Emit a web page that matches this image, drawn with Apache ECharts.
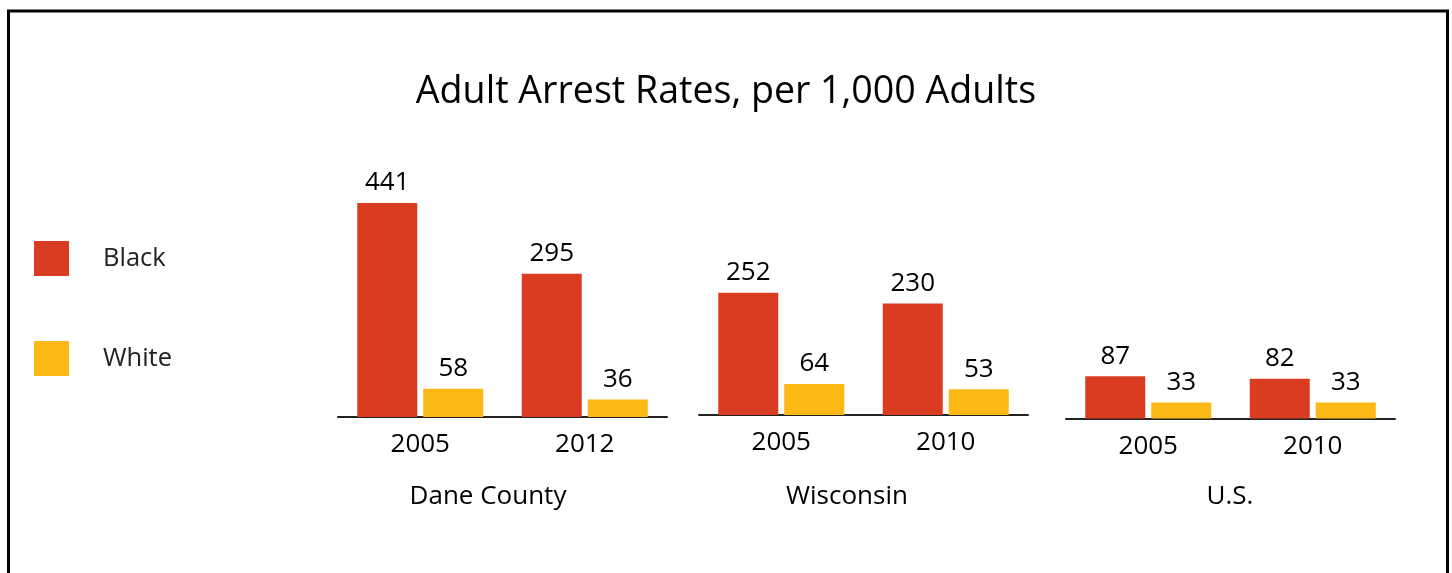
<!DOCTYPE html>
<html>
<head>
<meta charset="utf-8">
<script src="https://cdn.jsdelivr.net/npm/echarts@6/dist/echarts.min.js"></script>
<style>
  html, body { margin: 0; padding: 0; background: #fff; }
  #chart { width: 1452px; height: 573px; }
</style>
</head>
<body>
<div id="chart"></div>
<script>
const titleText = 'Adult Arrest Rates, per 1,000 Adults';
const seriesNames = ['Black', 'White'];
const groups = ['Dane County', 'Wisconsin', 'U.S.'];
const years = [['2005', '2012'], ['2005', '2010'], ['2005', '2010']];
const blackValues = [[441, 295], [252, 230], [87, 82]];
const whiteValues = [[58, 36], [64, 53], [33, 33]];

const FONT = 'Open Sans';
const RED = '#DA3C21';
const YELLOW = '#FCB815';

// layout per group: left, baseline, width
const gridLayout = [
  { left: 338, baseline: 417, width: 329 },
  { left: 699, baseline: 415, width: 329 },
  { left: 1066, baseline: 418.5, width: 329 }
];
const groupLabelPos = [488, 847, 1230];
const yMax = 500;
const pxPerUnit = 214 / 441;
const gridH = yMax * pxPerUnit;

const grids = [], xAxes = [], yAxes = [], series = [];
gridLayout.forEach((g, i) => {
  grids.push({ left: g.left, top: g.baseline - gridH, width: g.width, height: gridH, containLabel: false });
  xAxes.push({
    type: 'category', gridIndex: i, data: years[i],
    axisLine: { show: true, lineStyle: { color: '#222', width: 2 } },
    axisTick: { show: false },
    axisLabel: { color: '#000', fontFamily: FONT, fontSize: 26, margin: 15 },
    splitLine: { show: false }
  });
  yAxes.push({ type: 'value', gridIndex: i, min: 0, max: yMax, show: false, splitLine: { show: false } });
  const lbl = { show: true, position: 'top', distance: 7, color: '#000', fontFamily: FONT, fontSize: 26 };
  series.push({
    name: seriesNames[0], type: 'bar', xAxisIndex: i, yAxisIndex: i, data: blackValues[i],
    barWidth: 60, barGap: '10%', itemStyle: { color: RED }, label: lbl, silent: true
  });
  series.push({
    name: seriesNames[1], type: 'bar', xAxisIndex: i, yAxisIndex: i, data: whiteValues[i],
    barWidth: 60, barGap: '10%', itemStyle: { color: YELLOW }, label: lbl, silent: true
  });
});

const graphics = [
  { type: 'rect', shape: { x: 8.5, y: 11, width: 1439, height: 600 }, style: { fill: 'none', stroke: '#000', lineWidth: 3 }, silent: true }
];
groups.forEach((name, i) => {
  graphics.push({
    type: 'text', x: groupLabelPos[i], y: 497,
    style: { text: name, fontFamily: FONT, fontSize: 26, fill: '#000', textAlign: 'center', textVerticalAlign: 'middle' },
    silent: true
  });
});

const chart = echarts.init(document.getElementById('chart'), null, { renderer: 'canvas' });
chart.setOption({
  animation: false,
  backgroundColor: '#fff',
  title: {
    text: titleText, left: 'center', top: 68,
    textStyle: { fontFamily: FONT, fontSize: 37.6, fontWeight: 'normal', color: '#000' }
  },
  legend: {
    data: seriesNames, orient: 'vertical', left: 34, top: 241, padding: 0,
    itemWidth: 35, itemHeight: 35, itemGap: 65, icon: 'rect',
    selectedMode: false,
    textStyle: { fontFamily: FONT, fontSize: 25.5, color: '#222', padding: [0, 0, 0, 29] }
  },
  grid: grids,
  xAxis: xAxes,
  yAxis: yAxes,
  series: series,
  graphic: graphics
});
</script>
</body>
</html>
